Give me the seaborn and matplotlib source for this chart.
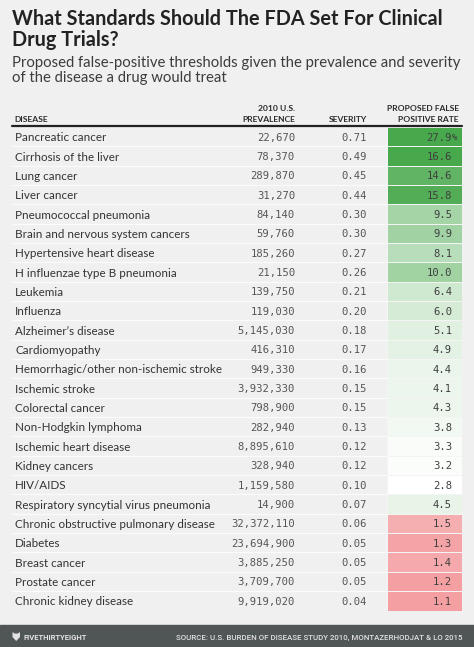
import numpy as np
import pandas as pd
import matplotlib
matplotlib.use("Agg")
import matplotlib.pyplot as plt
from matplotlib.colors import LinearSegmentedColormap, TwoSlopeNorm
from matplotlib.patches import Polygon
import seaborn as sns

# ---------------- data ----------------
diseases = [
    "Pancreatic cancer", "Cirrhosis of the liver", "Lung cancer", "Liver cancer",
    "Pneumococcal pneumonia", "Brain and nervous system cancers",
    "Hypertensive heart disease", "H influenzae type B pneumonia", "Leukemia",
    "Influenza", "Alzheimer\u2019s disease", "Cardiomyopathy",
    "Hemorrhagic/other non-ischemic stroke", "Ischemic stroke", "Colorectal cancer",
    "Non-Hodgkin lymphoma", "Ischemic heart disease", "Kidney cancers", "HIV/AIDS",
    "Respiratory syncytial virus pneumonia", "Chronic obstructive pulmonary disease",
    "Diabetes", "Breast cancer", "Prostate cancer", "Chronic kidney disease",
]
prevalence = [22670, 78370, 289870, 31270, 84140, 59760, 185260, 21150, 139750,
              119030, 5145030, 416310, 949330, 3932330, 798900, 282940, 8895610,
              328940, 1159580, 14900, 32372110, 23694900, 3885250, 3709700, 9919020]
severity = [0.71, 0.49, 0.45, 0.44, 0.30, 0.30, 0.27, 0.26, 0.21, 0.20, 0.18, 0.17,
            0.16, 0.15, 0.15, 0.13, 0.12, 0.12, 0.10, 0.07, 0.06, 0.05, 0.05, 0.05, 0.04]
fp_rate = [27.9, 16.6, 14.6, 15.8, 9.5, 9.9, 8.1, 10.0, 6.4, 6.0, 5.1, 4.9, 4.4, 4.1,
           4.3, 3.8, 3.3, 3.2, 2.8, 4.5, 1.5, 1.3, 1.4, 1.2, 1.1]
col_headers = ["DISEASE", "2010 U.S.\nPREVALENCE", "SEVERITY", "PROPOSED FALSE\nPOSITIVE RATE"]
title = "What Standards Should The FDA Set For Clinical\nDrug Trials?"
subtitle = "Proposed false-positive thresholds given the prevalence and severity\nof the disease a drug would treat"
source = "SOURCE: U.S. BURDEN OF DISEASE STUDY 2010, MONTAZERHODJAT & LO 2015"
brand = "FIVETHIRTYEIGHT"

df = pd.DataFrame({"disease": diseases, "prevalence": prevalence,
                   "severity": severity, "rate": fp_rate})

# ---------------- figure ----------------
W, H = 474, 647
BG = "#f0f0f0"
sns.set_theme(style="white")
plt.rcParams["font.family"] = ["Lato", "DejaVu Sans"]
fig = plt.figure(figsize=(W / 100, H / 100), dpi=100, facecolor=BG)
renderer = fig.canvas.get_renderer()


def fx(x):
    return x / W


def fy(y):
    return 1 - y / H


def fit_size(s, target, **kw):
    t = fig.text(0, 0, s, fontsize=10, **kw)
    w = t.get_window_extent(renderer).width
    t.remove()
    return 10 * target / w


# title / subtitle
tl = title.split("\n")
ts = fit_size(tl[0], 430, fontweight="bold")
fig.text(fx(12), fy(25.3), tl[0], fontsize=ts, fontweight="bold", color="#222222", va="baseline")
fig.text(fx(12), fy(46), tl[1], fontsize=ts, fontweight="bold", color="#222222", va="baseline")
sl = subtitle.split("\n")
ss = fit_size(sl[0], 449)
fig.text(fx(12), fy(66.8), sl[0], fontsize=ss, color="#3c3c3c", va="baseline")
fig.text(fx(12), fy(81.8), sl[1], fontsize=ss, color="#3c3c3c", va="baseline")

# ---------------- table ----------------
top, bot = 127.0, 610.5
left, right = 12.0, 462.0
n = len(df)
ax = fig.add_axes([fx(left), fy(bot), fx(right - left), (bot - top) / H])
ax.set_xlim(left, right)
ax.set_ylim(n, 0)
ax.set_facecolor(BG)
ax.axis("off")

rows = np.arange(n) + 0.5
name_size = fit_size("Respiratory syncytial virus pneumonia", 193)
mono = "DejaVu Sans Mono"
num_size = fit_size("32,372,110", 63.3, family=mono)

for i, r in df.iterrows():
    y = rows[i]
    ax.text(15, y, r["disease"], fontsize=name_size, color="#333333", va="center_baseline")
    ax.text(295, y, f"{int(r['prevalence']):,}", fontsize=num_size, family=mono,
            color="#555555", ha="right", va="center_baseline")
    ax.text(367, y, f"{r['severity']:.2f}", fontsize=num_size, family=mono,
            color="#555555", ha="right", va="center_baseline")

ax.hlines(np.arange(1, n), left, right, color="#fbfbfb", lw=0.9)

# header
hs = fit_size("POSITIVE RATE", 61, fontweight="bold")
hdr_x = [14, 295, 367, 459]
hdr_ha = ["left", "right", "right", "right"]
for txt, x, ha in zip(col_headers, hdr_x, hdr_ha):
    lines = txt.split("\n")
    for k, line in enumerate(reversed(lines)):
        fig.text(fx(x), fy(121.7 - 10.4 * k), line, fontsize=hs, fontweight="bold",
                 color="#2a2a2a", ha=ha, va="baseline")
fig.add_artist(plt.Line2D([fx(left), fx(right)], [fy(126.3), fy(126.3)], color="#222222", lw=1.6))

# heat column
cmap = LinearSegmentedColormap.from_list("fp", ["#f4a0a3", "#ffffff", "#48a84c"])
norm = TwoSlopeNorm(vmin=1.25, vcenter=2.8, vmax=16.6)
hx = fig.add_axes([fx(387), fy(bot), fx(462 - 387), (bot - top) / H])
sns.heatmap(df[["rate"]], ax=hx, cmap=cmap, norm=norm, cbar=False,
            linewidths=0.6, linecolor="#f4f4f4", xticklabels=False, yticklabels=False)
for i, v in enumerate(df["rate"]):
    hx.text(65 / 75, rows[i], f"{v:.1f}", fontsize=num_size, family=mono,
            color="#3f3f3f", ha="right", va="center_baseline")
    if i == 0:
        hx.text(65 / 75, rows[i], "%", fontsize=num_size * 0.85, family=mono,
                color="#3f3f3f", ha="left", va="center_baseline")

# ---------------- footer ----------------
fig.add_artist(plt.Rectangle((0, 0), 1, (H - 625) / H, transform=fig.transFigure,
                             color="#505555", zorder=0))
fs = fit_size(source, 285, family="Roboto", fontweight="medium")
fig.text(fx(462), fy(640), source, fontsize=fs, family="Roboto", fontweight="medium",
         color="#e2e2e2", ha="right", va="baseline")
bs = fit_size(brand, 64, family="Roboto", fontweight="bold")
fig.text(fx(23), fy(640), brand, fontsize=bs, family="Roboto", fontweight="bold",
         color="#e2e2e2", ha="left", va="baseline")
# small fox logo
logo = [(12.5, 632), (14.5, 633.5), (18, 633.5), (20, 632), (20, 637), (16.2, 641), (12.5, 637)]
fig.add_artist(Polygon([(fx(a), fy(b)) for a, b in logo], closed=True,
                       transform=fig.transFigure, facecolor="#e2e2e2", edgecolor="none"))

fig.savefig("out.png", dpi=100, facecolor=BG)
